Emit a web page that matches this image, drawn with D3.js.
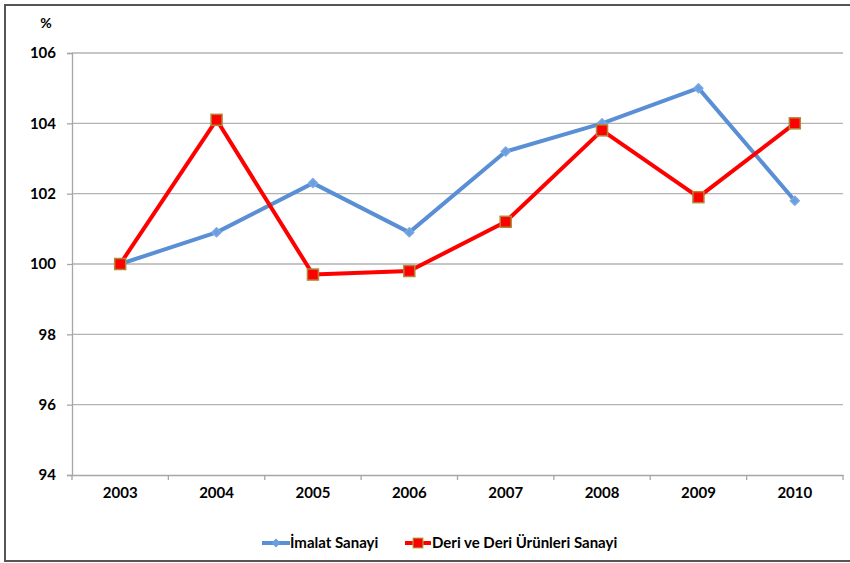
<!DOCTYPE html>
<html><head><meta charset="utf-8">
<script src="https://cdn.jsdelivr.net/npm/d3@7"></script>
<style>body{margin:0;background:#fff}svg{display:block}text{font-family:Lato,"Open Sans",sans-serif;font-weight:bold;fill:#000}</style>
</head><body><svg id="c" width="850" height="563"></svg>
<script>
const years = ["2003","2004","2005","2006","2007","2008","2009","2010"];
const imalat = [100, 100.9, 102.3, 100.9, 103.2, 104.0, 105.0, 101.8];
const deri = [100, 104.1, 99.7, 99.8, 101.2, 103.8, 101.9, 104.0];
const yTicks = [94, 96, 98, 100, 102, 104, 106];
const seriesNames = ["İmalat Sanayi", "Deri ve Deri Ürünleri Sanayi"];

const svg = d3.select("#c");
svg.append("rect").attr("x",5).attr("y",5).attr("width",850).attr("height",556)
  .attr("fill","#fff").attr("stroke","#555").attr("stroke-width",2);

const L=72, R=843, T=53, B=475;
const x = d3.scaleBand().domain(years).range([L,R]);
const y = d3.scaleLinear().domain([94,106]).range([B,T]);
const FS = "15px";

svg.append("g").selectAll("line").data(yTicks.filter(d=>d!==94)).join("line")
  .attr("x1",L).attr("x2",R).attr("y1",d=>y(d)).attr("y2",d=>y(d))
  .attr("stroke","#b3b3b3").attr("stroke-width",1.3);

const yAxis = svg.append("g").attr("transform",`translate(${L},0)`)
  .call(d3.axisLeft(y).tickValues(yTicks).tickSize(5).tickPadding(11).tickFormat(d3.format("d")));
yAxis.select(".domain").attr("stroke","#a6a6a6").attr("stroke-width",1.3);
yAxis.selectAll(".tick line").attr("stroke","#a6a6a6").attr("stroke-width",1.3);
yAxis.selectAll("text").style("font-size",FS).style("font-family","Lato, sans-serif").style("font-weight","bold");

const xAxis = svg.append("g").attr("transform",`translate(0,${B})`)
  .call(d3.axisBottom(x).tickSize(0).tickPadding(12));
xAxis.select(".domain").attr("stroke","#a6a6a6").attr("stroke-width",1.3);
xAxis.selectAll("text").style("font-size",FS).style("font-family","Lato, sans-serif").style("font-weight","bold");
const bounds = years.map(d=>x(d)).concat([R]);
svg.append("g").selectAll("line").data(bounds).join("line")
  .attr("x1",d=>d).attr("x2",d=>d).attr("y1",B).attr("y2",B+5)
  .attr("stroke","#a6a6a6").attr("stroke-width",1.3);

svg.append("text").attr("x",46).attr("y",28).attr("text-anchor","middle").style("font-size","14px").text("%");

const cx = d => x(d)+x.bandwidth()/2;
const line = d3.line().x((d,i)=>cx(years[i])).y(d=>y(d));
const blue="#5a8fd6", red="#ff0000";

svg.append("path").datum(imalat).attr("d",line).attr("fill","none").attr("stroke",blue).attr("stroke-width",4).attr("stroke-linejoin","round");
svg.append("path").datum(deri).attr("d",line).attr("fill","none").attr("stroke",red).attr("stroke-width",4).attr("stroke-linejoin","round");

const diamond = d3.symbol().type(d3.symbolSquare).size(40);
svg.append("g").selectAll("path").data(imalat).join("path")
  .attr("transform",(d,i)=>`translate(${cx(years[i])},${y(d)}) rotate(45)`).attr("d",diamond)
  .attr("fill","#6a9ee0").attr("stroke","#7aa8e3").attr("stroke-width",1.5).attr("stroke-linejoin","round");
svg.append("g").selectAll("rect").data(deri).join("rect")
  .attr("x",(d,i)=>cx(years[i])-5.5).attr("y",d=>y(d)-5.5).attr("width",11).attr("height",11)
  .attr("fill",red).attr("stroke","#b0883a").attr("stroke-width",1.5);

const lg = svg.append("g");
lg.append("line").attr("x1",262).attr("x2",290).attr("y1",543).attr("y2",543).attr("stroke",blue).attr("stroke-width",4);
lg.append("path").attr("transform","translate(276,543) rotate(45)").attr("d",diamond).attr("fill","#6a9ee0");
lg.append("text").attr("x",290).attr("y",548).style("font-size",FS).text(seriesNames[0]);
lg.append("line").attr("x1",405).attr("x2",431).attr("y1",543).attr("y2",543).attr("stroke",red).attr("stroke-width",4);
lg.append("rect").attr("x",413).attr("y",538).attr("width",10).attr("height",10).attr("fill",red).attr("stroke","#9cc04a").attr("stroke-width",1);
lg.append("text").attr("x",432).attr("y",548).style("font-size",FS).text(seriesNames[1]);
</script></body></html>
